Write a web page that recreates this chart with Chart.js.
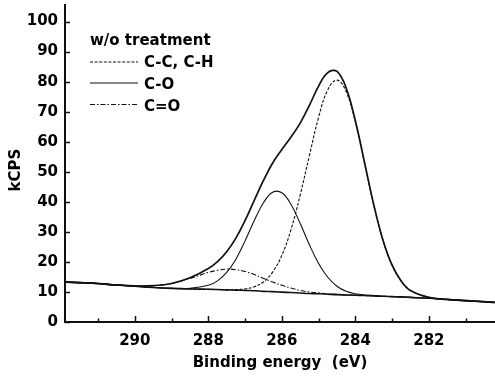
<!DOCTYPE html>
<html>
<head>
<meta charset="utf-8">
<script src="https://cdn.jsdelivr.net/npm/chart.js@4.4.1/dist/chart.umd.min.js"></script>
<style>
  html, body { margin: 0; padding: 0; background: #fff; }
  canvas { display: block; }
</style>
</head>
<body>
<canvas id="xps" width="495" height="376"></canvas>
<script>
// C 1s spectrum, untreated sample: binding energy (eV) and counts (kCPS)
const energy = [291.9, 291.5, 291.0, 290.5, 290.0, 289.5, 289.0, 288.5, 288.0, 287.75,
  287.5, 287.25, 287.0, 286.75, 286.5, 286.25, 286.0, 285.75, 285.5, 285.25,
  285.0, 284.75, 284.5, 284.25, 284.0, 283.75, 283.5, 283.25, 283.0, 282.75,
  282.5, 282.0, 281.5, 281.0, 280.5, 280.2];

// measured envelope
const envelope = [13.3, 13.1, 12.8, 12.3, 12.0, 12.1, 12.8, 14.7, 17.8, 20.1,
  23.4, 27.9, 33.8, 40.5, 47.1, 52.9, 57.4, 61.6, 66.2, 72.1,
  78.5, 83.0, 83.4, 77.9, 67.0, 53.1, 39.1, 27.3, 18.9, 13.6,
  10.5, 8.2, 7.5, 7.1, 6.75, 6.5];

// baseline under the fitted components
const baseline = [13.3, 13.1, 12.8, 12.3, 11.9, 11.5, 11.2, 11.0, 10.9, 10.8,
  10.7, 10.6, 10.5, 10.4, 10.2, 10.1, 9.95, 9.8, 9.65, 9.5,
  9.4, 9.25, 9.1, 9.0, 8.9, 8.8, 8.7, 8.55, 8.45, 8.35,
  8.2, 7.9, 7.5, 7.1, 6.75, 6.5];

// fitted components (baseline included)
const peakCC = [13.3, 13.1, 12.8, 12.3, 11.9, 11.5, 11.2, 11.0, 10.9, 10.8,
  10.7, 10.8, 11.0, 11.7, 13.3, 16.6, 22.2, 30.8, 42.3, 55.4,
  68.1, 77.3, 80.5, 76.7, 66.5, 52.9, 39.0, 27.3, 18.9, 13.6,
  10.5, 8.2, 7.5, 7.1, 6.75, 6.5];
const peakCO = [13.3, 13.1, 12.8, 12.3, 11.9, 11.5, 11.2, 11.2, 12.2, 13.7,
  16.5, 20.9, 27.0, 33.8, 39.7, 43.2, 43.0, 39.1, 32.8, 25.7,
  19.5, 14.9, 11.9, 10.2, 9.4, 9.0, 8.8, 8.55, 8.45, 8.35,
  8.2, 7.9, 7.5, 7.1, 6.75, 6.5];
const peakCdO = [13.3, 13.1, 12.8, 12.3, 12.0, 12.1, 12.8, 14.5, 16.5, 17.2,
  17.6, 17.4, 16.8, 15.8, 14.5, 13.3, 12.2, 11.3, 10.5, 10.0,
  9.7, 9.4, 9.2, 9.0, 8.9, 8.8, 8.7, 8.55, 8.45, 8.35,
  8.2, 7.9, 7.5, 7.1, 6.75, 6.5];

const componentLabels = ['C-C, C-H', 'C-O', 'C=O'];
const legendTitle = 'w/o treatment';
const xMajorTicks = [290, 288, 286, 284, 282];
const xMinorTicks = [291, 289, 287, 285, 283, 281];
const yTicks = [0, 10, 20, 30, 40, 50, 60, 70, 80, 90, 100];
const xTitle = 'Binding energy  (eV)';
const yTitle = 'kCPS';

const FONT = '"DejaVu Sans", "Liberation Sans", Arial, sans-serif';
const INK = '#111';

const pts = arr => energy.map((x, i) => ({ x, y: arr[i] }));

const lineBase = {
  pointRadius: 0,
  borderColor: INK,
  fill: false,
  tension: 0.4,
  borderJoinStyle: 'round'
};

const datasets = [
  { ...lineBase, label: 'envelope', data: pts(envelope), borderWidth: 1.7, inLegend: false },
  { ...lineBase, label: 'baseline', data: pts(baseline), borderWidth: 1.6, inLegend: false },
  { ...lineBase, label: componentLabels[0], data: pts(peakCC), borderWidth: 1.1, borderDash: [3, 1.6], inLegend: true },
  { ...lineBase, label: componentLabels[1], data: pts(peakCO), borderWidth: 1.1, borderDash: [], inLegend: true },
  { ...lineBase, label: componentLabels[2], data: pts(peakCdO), borderWidth: 1.1, borderDash: [5, 2, 1.5, 2], inLegend: true }
];

// inward tick marks on both axes
const inwardTicks = {
  id: 'inwardTicks',
  afterDraw(chart) {
    const { ctx, chartArea: a, scales: { x, y } } = chart;
    ctx.save();
    ctx.strokeStyle = INK;
    ctx.lineWidth = 1.5;
    const xt = xMajorTicks.map(v => [v, 6]).concat(xMinorTicks.map(v => [v, 3.5]));
    xt.forEach(([v, len]) => {
      const px = Math.round(x.getPixelForValue(v)) + 0.5;
      ctx.beginPath();
      ctx.moveTo(px, a.bottom);
      ctx.lineTo(px, a.bottom - len);
      ctx.stroke();
    });
    yTicks.forEach(v => {
      const py = Math.round(y.getPixelForValue(v)) + 0.5;
      ctx.beginPath();
      ctx.moveTo(a.left, py);
      ctx.lineTo(a.left + 5, py);
      ctx.stroke();
    });
    ctx.restore();
  }
};

// legend block in the upper left of the plot, plus the rotated y title
const sampleLegend = {
  id: 'sampleLegend',
  afterDraw(chart) {
    const ctx = chart.ctx;
    ctx.save();
    ctx.fillStyle = '#000';
    ctx.font = 'bold 15px ' + FONT;
    ctx.textBaseline = 'alphabetic';
    ctx.fillText(legendTitle, 90, 45);
    const lineY = [62, 83, 104.5];
    const textY = [66.5, 89, 111];
    chart.data.datasets.filter(d => d.inLegend).forEach((d, i) => {
      ctx.save();
      ctx.strokeStyle = INK;
      ctx.lineWidth = 1.1;
      ctx.setLineDash(d.borderDash || []);
      ctx.beginPath();
      ctx.moveTo(90, lineY[i]);
      ctx.lineTo(138, lineY[i]);
      ctx.stroke();
      ctx.restore();
      ctx.fillText(d.label, 144, textY[i]);
    });
    ctx.translate(16, 170);
    ctx.rotate(-Math.PI / 2);
    ctx.textAlign = 'center';
    ctx.textBaseline = 'middle';
    ctx.fillText(yTitle, 0, 0);
    ctx.restore();
  }
};

Chart.defaults.font.family = FONT;
Chart.defaults.font.weight = 'bold';
Chart.defaults.font.size = 15;
Chart.defaults.color = '#000';

new Chart(document.getElementById('xps'), {
  type: 'line',
  data: { datasets },
  plugins: [inwardTicks, sampleLegend],
  options: {
    responsive: false,
    animation: false,
    devicePixelRatio: 1,
    layout: { padding: { top: 5, right: 0, left: 0, bottom: 0 } },
    plugins: { legend: { display: false }, tooltip: { enabled: false } },
    scales: {
      x: {
        type: 'linear',
        reverse: true,
        min: 280.2,
        max: 291.9,
        grid: { display: false, drawTicks: false },
        border: { display: true, color: INK, width: 2 },
        ticks: { padding: 10, autoSkip: false, maxRotation: 0, color: '#000' },
        afterBuildTicks: s => { s.ticks = xMajorTicks.map(v => ({ value: v })); },
        afterFit: s => { s.height = 54; s.paddingLeft = 0; s.paddingRight = 0; },
        title: { display: true, text: xTitle, padding: { top: 0, bottom: 4 }, color: '#000' }
      },
      y: {
        type: 'linear',
        min: 0,
        max: 105.5,
        grid: { display: false, drawTicks: false },
        border: { display: true, color: INK, width: 2 },
        ticks: { padding: 7, autoSkip: false, color: '#000' },
        afterBuildTicks: s => { s.ticks = yTicks.map(v => ({ value: v })); },
        afterFit: s => { s.width = 65; s.paddingTop = 0; s.paddingBottom = 0; }
      }
    }
  }
});
</script>
</body>
</html>
